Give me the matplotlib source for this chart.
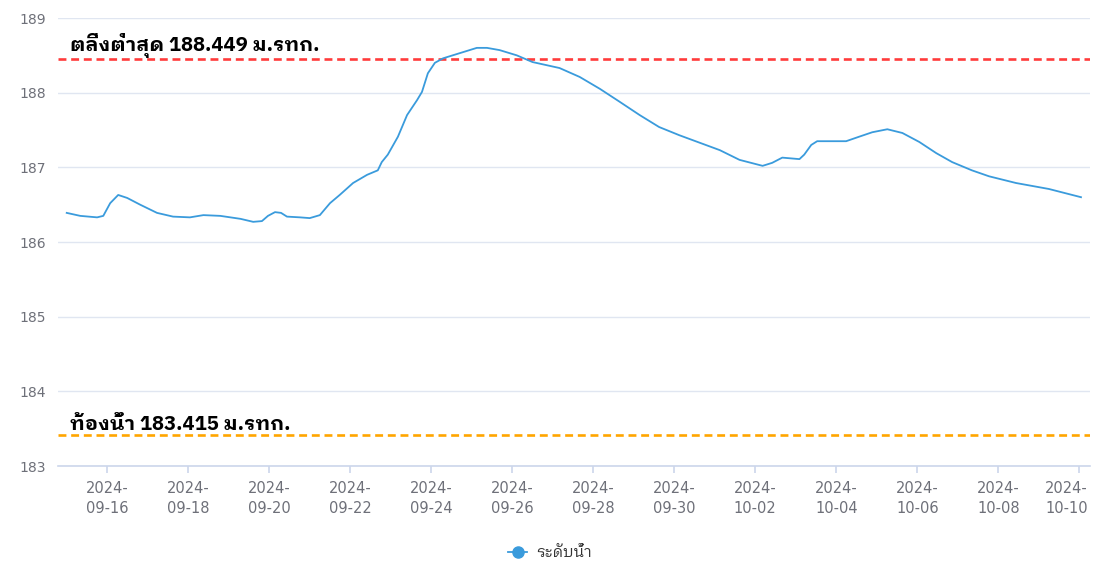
import matplotlib
matplotlib.use("Agg")
import matplotlib.pyplot as plt
import matplotlib.transforms as mtransforms
from matplotlib.lines import Line2D
import pandas as pd

# ====================== Data ======================
times = [
    "2024-09-15 00:00", "2024-09-15 08:00", "2024-09-15 18:00", "2024-09-15 21:40",
    "2024-09-16 01:45", "2024-09-16 06:30", "2024-09-16 11:50", "2024-09-16 19:30",
    "2024-09-17 05:30", "2024-09-17 15:00", "2024-09-18 01:00", "2024-09-18 09:00",
    "2024-09-18 19:00", "2024-09-19 07:00", "2024-09-19 14:30", "2024-09-19 19:40",
    "2024-09-19 23:15", "2024-09-20 03:25", "2024-09-20 07:00", "2024-09-20 10:30",
    "2024-09-20 18:15", "2024-09-21 00:00", "2024-09-21 06:00", "2024-09-21 12:00",
    "2024-09-21 17:45", "2024-09-22 01:40", "2024-09-22 10:00", "2024-09-22 16:20",
    "2024-09-22 18:40", "2024-09-22 22:15", "2024-09-23 04:15", "2024-09-23 09:40",
    "2024-09-23 15:35", "2024-09-23 18:30", "2024-09-23 22:00", "2024-09-24 02:10",
    "2024-09-24 07:00", "2024-09-24 17:00", "2024-09-25 03:00", "2024-09-25 09:00",
    "2024-09-25 16:30", "2024-09-26 02:40", "2024-09-26 12:00", "2024-09-27 04:00",
    "2024-09-27 16:00", "2024-09-28 04:00", "2024-09-28 15:30", "2024-09-29 03:30",
    "2024-09-29 15:00", "2024-09-30 03:00", "2024-09-30 15:00", "2024-10-01 03:00",
    "2024-10-01 14:40", "2024-10-02 04:20", "2024-10-02 10:00", "2024-10-02 16:00",
    "2024-10-03 02:10", "2024-10-03 05:00", "2024-10-03 09:10", "2024-10-03 12:40",
    "2024-10-03 21:30", "2024-10-04 05:50", "2024-10-04 13:30", "2024-10-04 21:20",
    "2024-10-05 06:15", "2024-10-05 15:10", "2024-10-06 01:10", "2024-10-06 11:15",
    "2024-10-06 20:40", "2024-10-07 08:20", "2024-10-07 18:30", "2024-10-08 10:30",
    "2024-10-09 06:00", "2024-10-10 01:00",
]
levels = [
    186.39, 186.35, 186.33, 186.35,
    186.52, 186.63, 186.59, 186.50,
    186.39, 186.34, 186.33, 186.36,
    186.35, 186.31, 186.27, 186.28,
    186.35, 186.40, 186.39, 186.34,
    186.33, 186.32, 186.36, 186.52,
    186.63, 186.79, 186.90, 186.96,
    187.07, 187.17, 187.41, 187.70,
    187.90, 188.01, 188.26, 188.40,
    188.46, 188.53, 188.60, 188.60,
    188.57, 188.50, 188.41, 188.33,
    188.21, 188.05, 187.88, 187.70,
    187.54, 187.43, 187.33, 187.23,
    187.10, 187.02, 187.06, 187.13,
    187.11, 187.17, 187.30, 187.35,
    187.35, 187.35, 187.41, 187.47,
    187.51, 187.46, 187.34, 187.19,
    187.07, 186.96, 186.88, 186.79,
    186.71, 186.60,
]
bank_level = 188.449
bed_level = 183.415
bank_label = "ตลิ่งต่ำสุด 188.449 ม.รทก."
bed_label = "ท้องน้ำ 183.415 ม.รทก."
series_name = "ระดับน้ำ"
tick_days = pd.date_range("2024-09-16", "2024-10-10", freq="2D")

t = pd.to_datetime(times)
thai_font = ["IBM Plex Sans Thai Looped", "Noto Sans Thai Looped", "DejaVu Sans"]
axis_grey = "#6E7079"
line_blue = "#3A9BDC"

# ====================== Plot ======================
fig = plt.figure(figsize=(11.11, 5.69), dpi=100)
ax = fig.add_axes([58 / 1111, 1 - 466 / 569, (1090 - 58) / 1111, (466 - 18) / 569])

ax.plot(t, levels, color=line_blue, linewidth=1.3, zorder=3)
ax.axhline(bank_level, color="#FF3B3B", linestyle=(0, (3, 1.8)), linewidth=1.9, zorder=2)
ax.axhline(bed_level, color="#FFA500", linestyle=(0, (3, 1.8)), linewidth=1.9, zorder=2)

ax.text(0.012, bank_level + 0.015, bank_label, transform=ax.get_yaxis_transform(),
        family=thai_font, fontsize=14.6, fontweight="bold", color="black", va="bottom")
ax.text(0.012, bed_level + 0.015, bed_label, transform=ax.get_yaxis_transform(),
        family=thai_font, fontsize=14.6, fontweight="bold", color="black", va="bottom")

ax.set_ylim(183, 189)
ax.set_yticks(range(183, 190))
ax.set_xlim(pd.Timestamp("2024-09-14 18:50"), pd.Timestamp("2024-10-10 06:20"))
ax.set_xticks(tick_days)
ax.set_xticklabels([d.strftime("%Y-\n%m-%d") for d in tick_days], linespacing=1.4)

ax.grid(axis="y", color="#E0E6F1", linewidth=1)
ax.set_axisbelow(True)
for side in ["top", "right", "left"]:
    ax.spines[side].set_visible(False)
ax.spines["bottom"].set_color("#CCD6EB")
ax.spines["bottom"].set_linewidth(1.2)
ax.tick_params(axis="y", length=0, pad=28, labelsize=10, labelcolor=axis_grey)
ax.tick_params(axis="x", length=5, width=1.2, color="#CCD6EB", pad=6, labelsize=10.5, labelcolor=axis_grey)
for lab in ax.get_yticklabels():
    lab.set_horizontalalignment("left")

# last date label is pushed left so it stays inside the chart
last = ax.get_xticklabels()[-1]
last.set_transform(last.get_transform() + mtransforms.ScaledTranslation(-13 / 100, 0, fig.dpi_scale_trans))

handle = Line2D([], [], color=line_blue, linewidth=1.3, marker="o", markersize=8)
fig.legend(handles=[handle], labels=[series_name], loc="center",
           bbox_to_anchor=(550 / 1111, 1 - 553 / 569), frameon=False,
           prop={"family": thai_font, "size": 11}, labelcolor="#333333",
           handlelength=1.2, handletextpad=0.6)

fig.savefig("out.png", dpi=100)
